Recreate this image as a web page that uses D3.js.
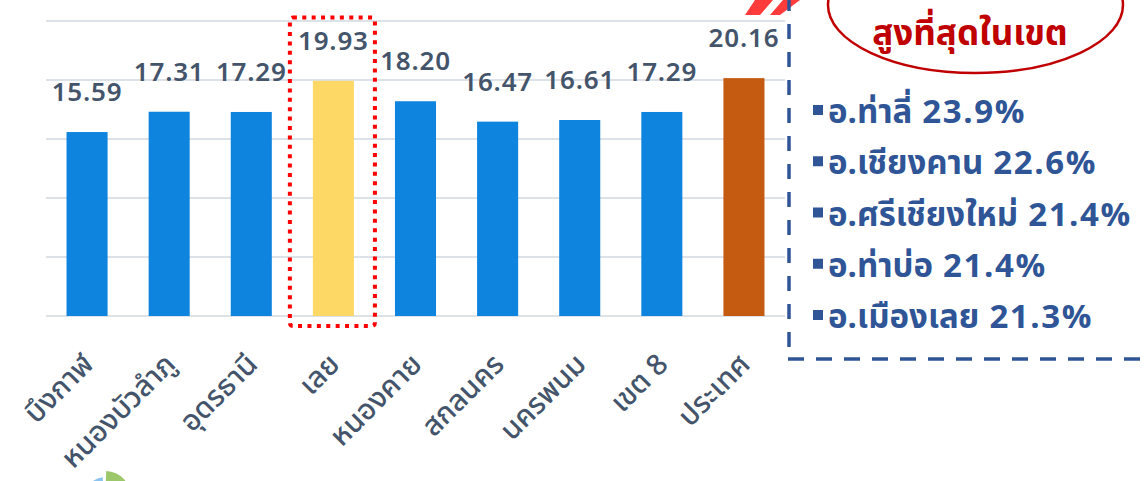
<!DOCTYPE html>
<html><head><meta charset="utf-8">
<script src="https://cdn.jsdelivr.net/npm/d3@7"></script>
<style>
html,body{margin:0;padding:0;background:#fff;}
svg{display:block;}
text{font-family:"Noto Sans Thai","Noto Sans Thai UI","Loma","Garuda","Noto Sans","DejaVu Sans",sans-serif;}
</style></head>
<body>
<svg id="c" width="1147" height="481"></svg>
<script>
const categories = ["บึงกาฬ","หนองบัวลำภู","อุดรธานี","เลย","หนองคาย","สกลนคร","นครพนม","เขต 8","ประเทศ"];
const values = [15.59,17.31,17.29,19.93,18.20,16.47,16.61,17.29,20.16];
const yTicks = [0,5,10,15,20,25];
const highlightCategory = "เลย";
const nationCategory = "ประเทศ";
const calloutTitle = "สูงที่สุดในเขต";
const districts = ["อ.ท่าลี่","อ.เชียงคาน","อ.ศรีเชียงใหม่","อ.ท่าบ่อ","อ.เมืองเลย"];
const districtValues = [23.9,22.6,21.4,21.4,21.3];

const svg = d3.select("#c");
const x = d3.scaleBand().domain(categories).range([46,785]).paddingInner(0.5).paddingOuter(0.25);
const y = d3.scaleLinear().domain([0,25]).range([316,21]);

// gridlines
svg.append("g").selectAll("line").data(yTicks).join("line")
  .attr("x1",46).attr("x2",785)
  .attr("y1",d=>y(d)).attr("y2",d=>y(d))
  .attr("stroke","#dde1e8").attr("stroke-width",2);

const color = d => d===highlightCategory ? "#fdd865" : (d===nationCategory ? "#c55a11" : "#0f84de");

svg.append("g").selectAll("rect").data(categories).join("rect")
  .attr("x",d=>x(d)).attr("width",x.bandwidth())
  .attr("y",(d,i)=>y(values[i])).attr("height",(d,i)=>y(0)-y(values[i]))
  .attr("fill",d=>color(d));

svg.append("g").selectAll("text").data(categories).join("text")
  .attr("x",d=>x(d)+x.bandwidth()/2)
  .attr("y",(d,i)=>y(values[i])-31)
  .attr("text-anchor","middle")
  .attr("font-size",26).attr("font-weight",600).attr("letter-spacing",0.8)
  .attr("fill","#44546a")
  .text((d,i)=>values[i].toFixed(2));

// x labels
svg.append("g").selectAll("text").data(categories).join("text")
  .attr("transform",d=>`translate(${x(d)+x.bandwidth()/2+8},${366}) rotate(-45)`)
  .attr("text-anchor","end")
  .attr("font-size",29).attr("font-weight",500).attr("fill","#44546a")
  .text(d=>d);

// dotted highlight box
const hx = x(highlightCategory);
svg.append("rect")
  .attr("x",hx-23).attr("y",17.5).attr("width",x.bandwidth()+44).attr("height",308.5)
  .attr("rx",3).attr("fill","none").attr("stroke","#ff0000").attr("stroke-width",4)
  .attr("stroke-dasharray","4,5.4");

// red arrow stripes
svg.append("path").attr("d","M745,15 L760,15 L773,0 L755,0 Z").attr("fill","#ff3b3b");
svg.append("path").attr("d","M770,15 L780,15 L800,0 L783,0 Z").attr("fill","#ff3b3b");

// dashed callout box
svg.append("line").attr("x1",789).attr("x2",789).attr("y1",347).attr("y2",-5)
  .attr("stroke","#2f5597").attr("stroke-width",3.5).attr("stroke-dasharray","15,13");
svg.append("line").attr("x1",788).attr("x2",1147).attr("y1",359).attr("y2",359)
  .attr("stroke","#2f5597").attr("stroke-width",3.5).attr("stroke-dasharray","16,12");

// ellipse
svg.append("ellipse").attr("cx",975.5).attr("cy",5).attr("rx",147.5).attr("ry",68)
  .attr("fill","#fff").attr("stroke","#c00000").attr("stroke-width",2.5);
svg.append("text").attr("x",970).attr("y",45).attr("text-anchor","middle")
  .attr("font-size",35).attr("font-weight",700).attr("fill","#c00000").text(calloutTitle);

const rows = svg.append("g").selectAll("g").data(districts).join("g")
  .attr("transform",(d,i)=>`translate(0,${123+i*51.25})`);
rows.append("rect").attr("x",813).attr("y",-18).attr("width",10).attr("height",10).attr("fill","#2f5597");
const rt = rows.append("text").attr("x",828).attr("y",0)
  .attr("font-size",33).attr("font-weight",700).attr("fill","#2f5597");
rt.append("tspan").attr("letter-spacing",0).text(d=>d);
rt.append("tspan").attr("dx",10).attr("letter-spacing",1.6).text((d,i)=>`${districtValues[i]}%`);

// partial logo at bottom
const arc = d3.arc();
svg.append("path").attr("transform","translate(105,497)")
  .attr("d",arc({innerRadius:0,outerRadius:26,startAngle:0.05,endAngle:Math.PI/2}))
  .attr("fill","#9cc76a");
svg.append("path").attr("transform","translate(105,497)")
  .attr("d",arc({innerRadius:0,outerRadius:20,startAngle:-Math.PI/2,endAngle:-0.12}))
  .attr("fill","#8cc4f0");
</script>
</body></html>
